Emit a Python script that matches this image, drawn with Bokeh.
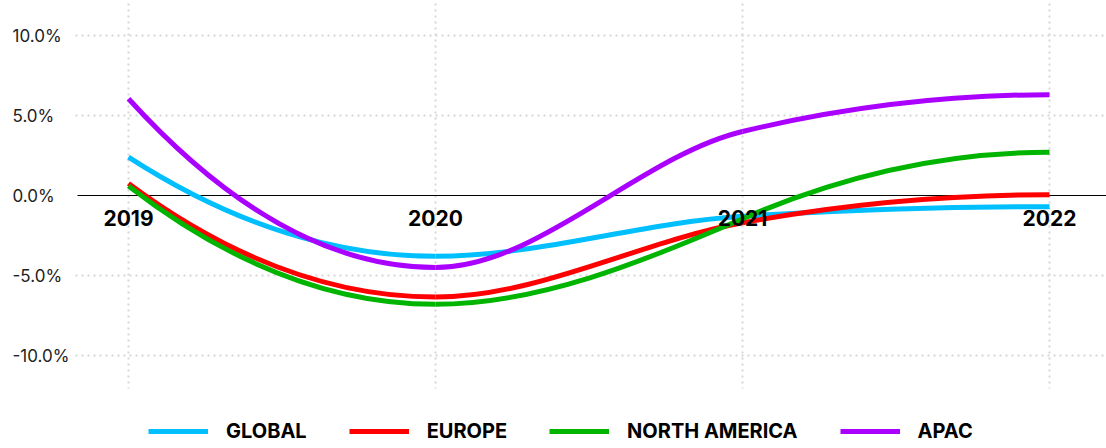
import numpy as np
from bokeh.plotting import figure
from bokeh.models import Range1d, Legend, LegendItem
from bokeh.core.properties import value
from bokeh.embed import file_html
from bokeh.resources import INLINE

# ---- data ----
years = [2019, 2020, 2021, 2022]
x_tick_labels = ["2019", "2020", "2021", "2022"]
series_names = ["GLOBAL", "EUROPE", "NORTH AMERICA", "APAC"]
global_vals = [2.4, -3.8, -1.3, -0.7]
europe_vals = [0.75, -6.35, -1.7, 0.05]
north_america_vals = [0.6, -6.8, -1.45, 2.7]
apac_vals = [6.05, -4.5, 4.0, 6.3]
y_ticks = [-10, -5, 0, 5, 10]
y_tick_labels = ["-10.0%", "-5.0%", "0.0%", "5.0%", "10.0%"]

colors = ["#00BFFF", "#FF0000", "#00B400", "#AA00FF"]
all_series = [global_vals, europe_vals, north_america_vals, apac_vals]


# ---- smooth curve: Hermite spline (flat at the last point and at turning
#      points, parabolic run-in elsewhere), drawn as bezier segments ----
def hermite_tangents(x, y):
    n = len(x)
    d = np.diff(y) / np.diff(x)
    m = np.zeros(n)
    m[-1] = 0.0
    for i in range(n - 2, 0, -1):
        if d[i - 1] * d[i] <= 0:
            m[i] = 0.0
        else:
            m[i] = 2.0 * d[i] - m[i + 1]
    m[0] = 2.0 * d[0] - m[1]
    return m


def bezier_segments(x, y):
    x = np.asarray(x, float)
    y = np.asarray(y, float)
    m = hermite_tangents(x, y)
    h = np.diff(x)
    return dict(
        x0=x[:-1], y0=y[:-1], x1=x[1:], y1=y[1:],
        cx0=x[:-1] + h / 3, cy0=y[:-1] + m[:-1] * h / 3,
        cx1=x[1:] - h / 3, cy1=y[1:] - m[1:] * h / 3,
    )


# ---- layout ----
W, H = 1106, 448
px_per_year = 307.0
px_per_pct = 16.0
zero_px = 195
x_start = years[0] - 128 / px_per_year
x_end = years[-1] + (W - 1049) / px_per_year
y_end = zero_px / px_per_pct
y_start = -(H - zero_px) / px_per_pct

p = figure(width=W, height=H, output_backend="svg", toolbar_location=None,
           x_range=Range1d(x_start, x_end), y_range=Range1d(y_start, y_end),
           min_border=0, min_border_left=0, min_border_right=0,
           min_border_top=0, min_border_bottom=0)
p.xaxis.visible = False
p.yaxis.visible = False
p.xgrid.visible = False
p.ygrid.visible = False
p.outline_line_color = None
p.background_fill_color = "white"
p.border_fill_color = "white"

grid_x0 = x_start + 75 / px_per_year
grid_color = "#D6D6D6"

# horizontal dotted grid
h_ticks = [v for v in y_ticks if v != 0]
p.segment(x0=[grid_x0] * len(h_ticks), x1=[x_end] * len(h_ticks), y0=h_ticks, y1=h_ticks,
          line_color=grid_color, line_width=2, line_dash="2 4")
# vertical dotted grid
v_top = (zero_px - 3) / px_per_pct
v_bottom = (zero_px - 388) / px_per_pct
p.segment(x0=years, x1=years, y0=[v_top] * len(years), y1=[v_bottom] * len(years),
          line_color=grid_color, line_width=2, line_dash="2 4")
# zero line
p.segment(x0=[x_start + 77 / px_per_year], x1=[x_end], y0=[0], y1=[0],
          line_color="black", line_width=1)

# curves
items = []
for name, vals, col in zip(series_names, all_series, colors):
    seg = bezier_segments(years, vals)
    r = p.bezier(source=seg, x0="x0", y0="y0", x1="x1", y1="y1",
                 cx0="cx0", cy0="cy0", cx1="cx1", cy1="cy1",
                 line_color=col, line_width=5, line_cap="butt")
    items.append(LegendItem(label=name, renderers=[r]))

# y tick labels (left aligned)
p.text(x=[x_start] * len(y_ticks), y=y_ticks, text=y_tick_labels, x_offset=12,
       text_align="left", text_baseline="middle", text_font=value("Inter"),
       text_font_size="17px", text_color="#222222")

# x tick labels (bold, just below zero line)
p.text(x=years, y=[0] * len(years), text=x_tick_labels, y_offset=22,
       text_align="center", text_baseline="middle", text_font=value("Inter"),
       text_font_style="bold", text_font_size="21px", text_color="black")

legend = Legend(items=items, orientation="horizontal", location=(148, 5),
                glyph_width=60, glyph_height=20, label_standoff=18, spacing=42,
                padding=0, margin=0, border_line_alpha=0, background_fill_alpha=0,
                label_text_font="Inter", label_text_font_style="bold",
                label_text_font_size="20px", label_text_color="black")
p.add_layout(legend)

open("out.html", "w").write(file_html(p, INLINE))
